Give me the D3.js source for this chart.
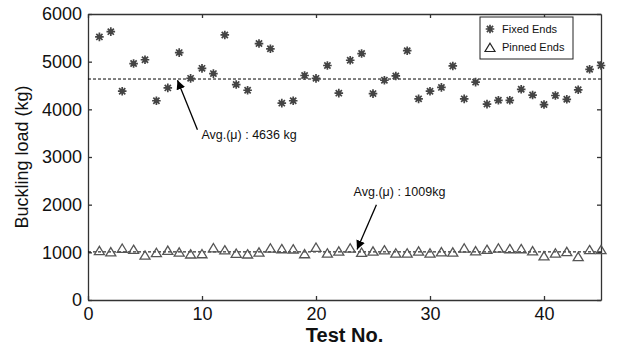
<!DOCTYPE html>
<html>
<head>
<meta charset="utf-8">
<script src="https://cdn.jsdelivr.net/npm/d3@7"></script>
<style>
  body { margin: 0; background: #fff; }
  text { font-family: "Liberation Sans", Arial, sans-serif; }
</style>
</head>
<body>
<svg width="617" height="347"></svg>
<script>

// test numbers 1..45
let tests = d3.range(1, 46);

let fixedEnds = [
  5520, 5630, 4380, 4960, 5040, 4180, 4450, 5190, 4650, 4860,
  4750, 5560, 4520, 4400, 5380, 5270, 4130, 4180, 4710, 4650,
  4920, 4340, 5030, 5170, 4330, 4610, 4700, 5230, 4220, 4380,
  4460, 4910, 4220, 4570, 4110, 4190, 4190, 4420, 4300, 4100,
  4290, 4210, 4410, 4840, 4920
];

let pinnedEnds = [
  1035, 1010, 1085, 1060, 940, 995, 1040, 1005, 965, 970,
  1095, 1050, 980, 965, 1005, 1090, 1075, 1070, 970, 1105,
  985, 1025, 1090, 1000, 1025, 1050, 985, 985, 1025, 985,
  1010, 1005, 1090, 1030, 1060, 1090, 1075, 1075, 1030, 925,
  985, 1015, 910, 1055, 1055
];

let avgFixed = 4636;
let avgPinned = 1009;

let xTicks = [0, 10, 20, 30, 40];
let yTicks = [0, 1000, 2000, 3000, 4000, 5000, 6000];

let svg = d3.select('svg');
let width = +svg.attr('width');
let height = +svg.attr('height');
let margin = { top: 14, right: 16, bottom: 47, left: 88 };

let x = d3.scaleLinear()
    .domain([0, 45])
    .range([margin.left, width - margin.right]);

let y = d3.scaleLinear()
    .domain([0, 6000])
    .range([height - margin.bottom, margin.top]);

let axisColor = '#333';

// axes (ticks pointing inward, box on all sides)
let gx = svg.append('g')
    .attr('transform', 'translate(0,' + y(0) + ')')
    .call(d3.axisBottom(x).tickValues(xTicks).tickFormat(d3.format('d'))
        .tickSizeInner(-4).tickSizeOuter(0).tickPadding(7));

let gy = svg.append('g')
    .attr('transform', 'translate(' + x(0) + ',0)')
    .call(d3.axisLeft(y).tickValues(yTicks).tickFormat(d3.format('d'))
        .tickSizeInner(-4).tickSizeOuter(0).tickPadding(6));

let gt = svg.append('g')
    .attr('transform', 'translate(0,' + y(6000) + ')')
    .call(d3.axisTop(x).tickValues(xTicks).tickSizeInner(-4).tickSizeOuter(0).tickFormat(''));

let gr = svg.append('g')
    .attr('transform', 'translate(' + x(45) + ',0)')
    .call(d3.axisRight(y).tickValues(yTicks).tickSizeInner(-4).tickSizeOuter(0).tickFormat(''));

[gx, gy, gt, gr].forEach(g => {
  g.select('.domain').attr('stroke', axisColor).attr('stroke-width', 1.3);
  g.selectAll('.tick line').attr('stroke', axisColor).attr('stroke-width', 1.3);
  g.selectAll('.tick text')
    .attr('fill', '#111')
    .style('font-size', '18px')
    .style('font-family', '"Liberation Sans", Arial, sans-serif');
});

// axis titles
svg.append('text')
    .attr('x', (x(0) + x(45)) / 2)
    .attr('y', 342)
    .attr('text-anchor', 'middle')
    .style('font-size', '20px')
    .style('font-weight', 'bold')
    .attr('fill', '#111')
    .text('Test No.');

svg.append('text')
    .attr('transform', 'translate(28,' + (y(0) + y(6000)) / 2 + ') rotate(-90)')
    .attr('text-anchor', 'middle')
    .style('font-size', '18px')
    .attr('fill', '#111')
    .text('Buckling load (kg)');

// average lines
svg.append('line')
    .attr('x1', x(0)).attr('x2', x(45))
    .attr('y1', y(avgFixed)).attr('y2', y(avgFixed))
    .attr('stroke', '#000').attr('stroke-width', 1)
    .attr('stroke-dasharray', '3,2');

svg.append('line')
    .attr('x1', x(0)).attr('x2', x(45))
    .attr('y1', y(avgPinned)).attr('y2', y(avgPinned))
    .attr('stroke', '#000').attr('stroke-width', 1)
    .attr('stroke-dasharray', '3,2');

// marker shapes
let starPath = 'M-4.3,0L4.3,0M0,-4.3L0,4.3M-3.1,-3.1L3.1,3.1M-3.1,3.1L3.1,-3.1';
let triPath = 'M0,-4.3L5,4L-5,4Z';

let starColor = '#444';
let triColor = '#555';

function drawStar(sel) {
  sel.append('path').attr('d', starPath)
      .attr('stroke', starColor).attr('stroke-width', 1.7).attr('fill', 'none');
  sel.append('circle').attr('r', 2.4).attr('fill', starColor);
}

svg.append('g')
  .selectAll('g')
  .data(tests)
  .enter().append('g')
    .attr('transform', (d, i) => 'translate(' + x(d) + ',' + y(fixedEnds[i]) + ')')
    .call(drawStar);

svg.append('g')
  .selectAll('path')
  .data(tests)
  .enter().append('path')
    .attr('transform', (d, i) => 'translate(' + x(d) + ',' + y(pinnedEnds[i]) + ')')
    .attr('d', triPath)
    .attr('fill', 'none')
    .attr('stroke', triColor)
    .attr('stroke-width', 1.3);

// annotations
svg.append('defs').append('marker')
    .attr('id', 'arrow')
    .attr('viewBox', '0 0 10 10')
    .attr('refX', 10).attr('refY', 5)
    .attr('markerWidth', 9).attr('markerHeight', 9)
    .attr('markerUnits', 'userSpaceOnUse')
    .attr('orient', 'auto')
  .append('path')
    .attr('d', 'M0,0L10,5L0,10Z')
    .attr('fill', '#000');

let notes = [
  { text: 'Avg.(\u03bc) : ' + avgFixed + ' kg', tx: 9.95, ty: 3380, fromX: 9.6, fromY: 3570, toX: 7.85, toY: 4610 },
  { text: 'Avg.(\u03bc) : ' + avgPinned + 'kg', tx: 23.3, ty: 2180, fromX: 25.3, fromY: 2000, toX: 23.6, toY: 1060 }
];

notes.forEach(n => {
  svg.append('line')
      .attr('x1', x(n.fromX)).attr('y1', y(n.fromY))
      .attr('x2', x(n.toX)).attr('y2', y(n.toY))
      .attr('stroke', '#000').attr('stroke-width', 1.3)
      .attr('marker-end', 'url(#arrow)');
  svg.append('text')
      .attr('x', x(n.tx)).attr('y', y(n.ty))
      .style('font-size', '12.5px')
      .attr('fill', '#111')
      .text(n.text);
});

// legend
let legend = svg.append('g').attr('transform', 'translate(480,17)');
legend.append('rect')
    .attr('width', 93).attr('height', 42)
    .attr('fill', '#fff').attr('stroke', '#222').attr('stroke-width', 1);

let legItems = ['Fixed Ends', 'Pinned Ends'];
legItems.forEach((name, i) => {
  let row = legend.append('g').attr('transform', 'translate(10,' + (12 + i * 18.5) + ')');
  if (i === 0) row.call(drawStar);
  else row.append('path').attr('d', triPath)
      .attr('fill', 'none').attr('stroke', '#222').attr('stroke-width', 1.2);
  row.append('text')
      .attr('x', 12).attr('dy', '0.35em')
      .style('font-size', '11px')
      .attr('fill', '#111')
      .text(name);
});

</script>
</body>
</html>
